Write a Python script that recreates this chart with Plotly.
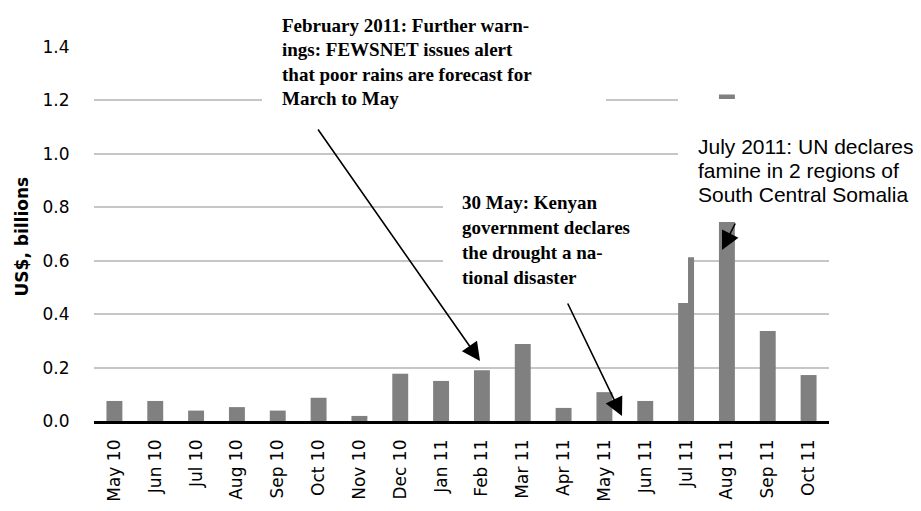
import plotly.graph_objects as go

months = ["May 10", "Jun 10", "Jul 10", "Aug 10", "Sep 10", "Oct 10", "Nov 10", "Dec 10",
          "Jan 11", "Feb 11", "Mar 11", "Apr 11", "May 11", "Jun 11", "Jul 11", "Aug 11",
          "Sep 11", "Oct 11"]
funding = [0.075, 0.075, 0.039, 0.052, 0.039, 0.087, 0.019, 0.177,
           0.150, 0.190, 0.288, 0.049, 0.108, 0.075, 0.613, 1.222,
           0.337, 0.172]
y_ticks = [0.0, 0.2, 0.4, 0.6, 0.8, 1.0, 1.2, 1.4]

feb_lines = ["February 2011: Further warn-", "ings: FEWSNET issues alert",
             "that poor rains are forecast for", "March to May"]
may_lines = ["30 May: Kenyan", "government declares", "the drought a na-", "tional disaster"]
jul_lines = ["July 2011: UN declares", "famine in 2 regions of", "South Central Somalia"]

# page body has an 8px default margin; work in screen pixels and shift
OFF = 8
SW, SH = 921, 511
W, H = SW - OFF, SH - OFF
L, R, T, B = 94 - OFF, SW - 829, 47 - OFF, SH - 421
PW, PH = W - L - R, H - T - B


def px(x):
    return (x - OFF - L) / PW


def py(y):
    return (H - B - (y - OFF)) / PH


fig = go.Figure()
fig.add_trace(go.Bar(x=months, y=funding, marker=dict(color="#808080", line=dict(width=0)),
                     hoverinfo="skip"))

shapes = []
for (x0, y0, x1, y1) in [(262, 38, 606, 124), (443, 185, 688, 303), (678, 99, 925, 222)]:
    shapes.append(dict(type="rect", xref="paper", yref="paper", x0=px(x0), x1=px(x1),
                       y0=py(y1), y1=py(y0), fillcolor="white", line=dict(width=0),
                       layer="above"))

annotations = []


def add_block(lines, left, first_center, spacing, font):
    for i, t in enumerate(lines):
        annotations.append(dict(text=t, xref="paper", yref="paper", x=px(left),
                                y=py(first_center + i * spacing), xanchor="left",
                                yanchor="middle", showarrow=False, font=font, align="left"))


serif = dict(family="Liberation Serif", size=19, color="black", weight="bold")
sans = dict(family="Liberation Sans", size=21, color="black")
add_block(feb_lines, 280, 25.5, 24.4, serif)
add_block(may_lines, 460, 202, 25, serif)
add_block(jul_lines, 696, 146.5, 24, sans)

for (tx, ty, hx, hy, sz) in [(317, 128, 480, 361, 2.3), (567, 302, 622, 416, 2.3),
                             (736, 222, 722, 250, 2.3)]:
    annotations.append(dict(text="", xref="paper", yref="paper", x=px(hx), y=py(hy),
                            ax=tx - hx, ay=ty - hy, showarrow=True, arrowhead=2,
                            arrowsize=sz, arrowwidth=1.6, arrowcolor="black", standoff=0))

annotations.append(dict(text="<b>US$, billions</b>", xref="paper", yref="paper",
                        x=px(21.5), y=py(237), xanchor="center", yanchor="middle",
                        textangle=-90, showarrow=False,
                        font=dict(family="DejaVu Sans", size=17, color="black")))

fig.update_layout(
    width=W, height=H, margin=dict(l=L, r=R, t=T, b=B, autoexpand=False),
    plot_bgcolor="white", paper_bgcolor="white", showlegend=False, bargap=0.61,
    shapes=shapes, annotations=annotations,
    xaxis=dict(type="category", showline=True, linecolor="black", linewidth=2.5,
               tickangle=-90, ticks="outside", ticklen=9, tickcolor="rgba(0,0,0,0)",
               tickfont=dict(family="DejaVu Sans", size=17, color="black"),
               showgrid=False, fixedrange=True),
    yaxis=dict(range=[0, 1.4], tickvals=y_ticks, tickformat=".1f", showgrid=True,
               gridcolor="#c6c6c6", gridwidth=1.6, zeroline=False, showline=False,
               ticks="outside", ticklen=20, tickcolor="rgba(0,0,0,0)",
               tickfont=dict(family="DejaVu Sans", size=17, color="black")),
)

fig.write_html("out.html")
